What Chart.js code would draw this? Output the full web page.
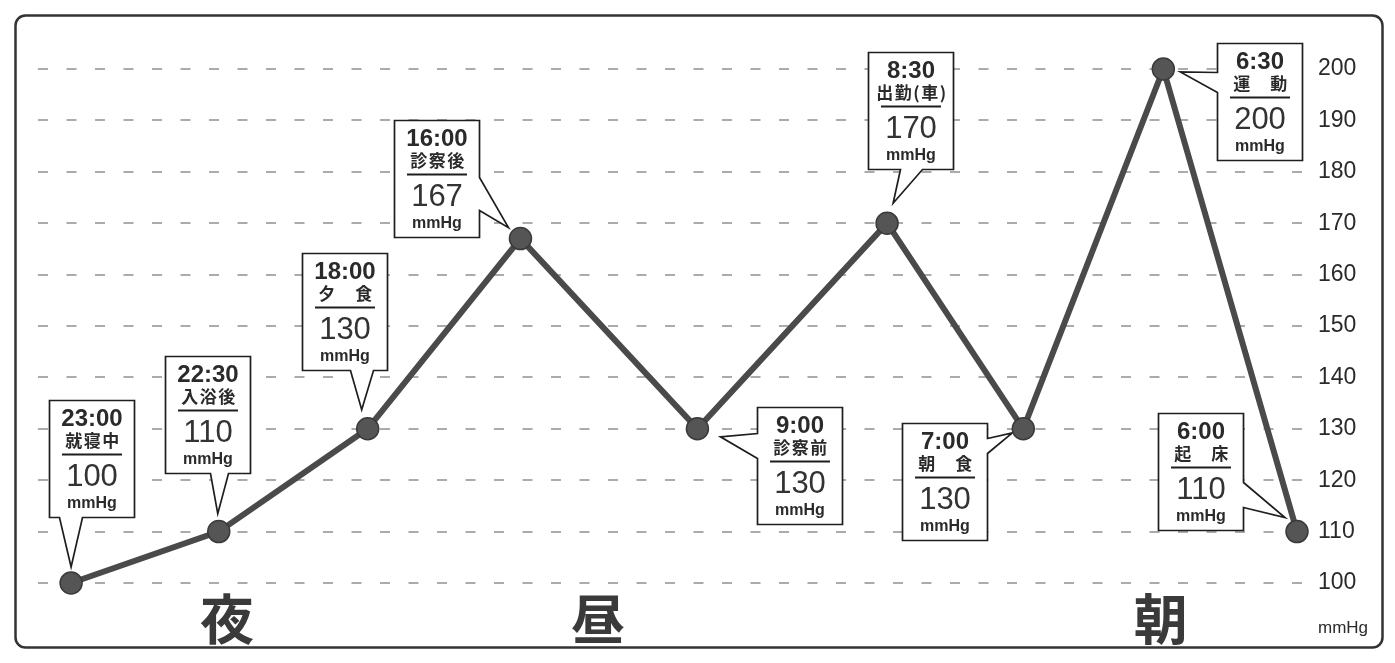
<!DOCTYPE html>
<html><head><meta charset="utf-8">
<script src="https://cdn.jsdelivr.net/npm/chart.js@4.4.0/dist/chart.umd.min.js"></script>
<style>html,body{margin:0;padding:0;background:#fff;}canvas{display:block;}</style>
</head><body>
<canvas id="c" width="1395" height="663"></canvas>
<script>
// ---- data ----
const times = ['23:00','22:30','18:00','16:00','9:00','8:30','7:00','6:30','6:00'];
const notes = ['就寝中','入浴後','夕　食','診察後','診察前','出勤(車)','朝　食','運　動','起　床'];
const bp = [100,110,130,167,130,170,130,200,110];
const xPos = [2.6,14.2,25.9,37.9,51.8,66.7,77.4,88.4,98.9];
const unit = 'mmHg';
const periods = ['夜','昼','朝'];
const periodX = [14.85,44.0,88.2];
const yMin = 100, yMax = 200, yStep = 10;

// ---- callout layout (relative to each point) ----
const BOX_W = 85, BOX_H = 117;
const callouts = [
  {dx:-22, dy:-183, side:'bottom', b0:10, b1:33, tx:0,   ty:-16},
  {dx:-54, dy:-176, side:'bottom', b0:45, b1:63, tx:-1,  ty:-18},
  {dx:-66, dy:-176, side:'bottom', b0:48, b1:71, tx:-6,  ty:-19},
  {dx:-126,dy:-119, side:'right',  b0:57, b1:90, tx:-12, ty:-11},
  {dx:60,  dy:-22,  side:'left',   b0:26, b1:51, tx:23,  ty:8},
  {dx:-19, dy:-171, side:'bottom', b0:32, b1:54, tx:6,   ty:-20},
  {dx:-121,dy:-6,   side:'right',  b0:15, b1:30, tx:-11, ty:4},
  {dx:54,  dy:-26,  side:'left',   b0:29, b1:49, tx:17,  ty:3},
  {dx:-139,dy:-119, side:'right',  b0:69, b1:94, tx:-12, ty:-14}
];

const TEXT = '#2a2a2a';

function boxPath(ctx, L, T, c, tipX, tipY) {
  const R = L + BOX_W, B = T + BOX_H;
  ctx.beginPath();
  ctx.moveTo(L, T);
  ctx.lineTo(R, T);
  if (c.side === 'right') {
    ctx.lineTo(R, T + c.b0); ctx.lineTo(tipX, tipY); ctx.lineTo(R, T + c.b1);
  }
  ctx.lineTo(R, B);
  if (c.side === 'bottom') {
    ctx.lineTo(L + c.b1, B); ctx.lineTo(tipX, tipY); ctx.lineTo(L + c.b0, B);
  }
  ctx.lineTo(L, B);
  if (c.side === 'left') {
    ctx.lineTo(L, T + c.b1); ctx.lineTo(tipX, tipY); ctx.lineTo(L, T + c.b0);
  }
  ctx.closePath();
}

const decor = {
  id: 'decor',
  beforeDraw(chart) {
    const ctx = chart.ctx;
    ctx.save();
    ctx.fillStyle = '#fff';
    ctx.fillRect(0, 0, chart.width, chart.height);
    ctx.beginPath();
    ctx.roundRect(15.5, 15.5, 1367, 632, 10);
    ctx.lineWidth = 2.5;
    ctx.strokeStyle = '#333';
    ctx.stroke();
    ctx.restore();
  },
  beforeDatasetsDraw(chart) {
    const ctx = chart.ctx;
    const xs = chart.scales.x, ys = chart.scales.y;
    ctx.save();
    // period labels
    ctx.fillStyle = '#3a3a3a';
    ctx.font = 'bold 54px "Noto Sans CJK JP"';
    ctx.textAlign = 'center';
    ctx.textBaseline = 'middle';
    periods.forEach((p, i) => {
      ctx.fillText(p, xs.getPixelForValue(periodX[i]), chart.chartArea.bottom + 36);
    });
    // unit label under axis
    ctx.font = '17px "Liberation Sans"';
    ctx.fillStyle = TEXT;
    ctx.textAlign = 'left';
    ctx.fillText(unit, 1318, 628);

    // callouts
    bp.forEach((v, i) => {
      const c = callouts[i];
      const px = xs.getPixelForValue(xPos[i]);
      const py = ys.getPixelForValue(v);
      const L = Math.round(px + c.dx) + 0.5, T = Math.round(py + c.dy) + 0.5;
      boxPath(ctx, L, T, c, px + c.tx, py + c.ty);
      ctx.fillStyle = '#fff';
      ctx.fill();
      ctx.lineWidth = 1.7;
      ctx.strokeStyle = '#1e1e1e';
      ctx.lineJoin = 'miter';
      ctx.stroke();
      const cx = L + BOX_W / 2;
      ctx.fillStyle = TEXT;
      ctx.textAlign = 'center';
      ctx.textBaseline = 'middle';
      ctx.font = 'bold 24px "Liberation Sans"';
      ctx.fillText(times[i], cx, T + 19);
      ctx.font = 'bold 17px "Noto Sans CJK JP"';
      ctx.letterSpacing = '1.5px';
      ctx.fillText(notes[i], cx + 1, T + 40);
      ctx.letterSpacing = '0px';
      ctx.beginPath();
      ctx.moveTo(cx - 30, T + 54); ctx.lineTo(cx + 30, T + 54);
      ctx.lineWidth = 2;
      ctx.stroke();
      ctx.font = '31px "Liberation Sans"';
      ctx.fillStyle = '#333';
      ctx.fillText(String(v), cx, T + 77);
      ctx.font = 'bold 16px "Liberation Sans"';
      ctx.fillStyle = TEXT;
      ctx.fillText(unit, cx, T + 103);
    });
    ctx.restore();
  }
};

new Chart(document.getElementById('c'), {
  type: 'line',
  data: {
    datasets: [{
      data: xPos.map((x, i) => ({x: x, y: bp[i]})),
      borderColor: '#4a4a4a',
      borderWidth: 6,
      pointRadius: 11,
      pointBackgroundColor: '#555',
      pointBorderColor: '#3a3a3a',
      pointBorderWidth: 1.5,
      tension: 0,
      clip: false
    }]
  },
  options: {
    responsive: false,
    animation: false,
    devicePixelRatio: 1,
    layout: {padding: {left: 38, top: 69, bottom: 80, right: 0}},
    plugins: {legend: {display: false}, tooltip: {enabled: false}},
    scales: {
      x: {type: 'linear', min: 0, max: 100, display: false},
      y: {
        position: 'right',
        min: yMin, max: yMax,
        afterFit(s) { s.width = 84; },
        ticks: {
          stepSize: yStep,
          padding: 7,
          color: '#2a2a2a',
          font: {family: '"Liberation Sans"', size: 23}
        },
        grid: {color: '#ababab', lineWidth: 2, drawTicks: false},
        border: {display: false, dash: [10, 18.5], dashOffset: 0}
      }
    }
  },
  plugins: [decor]
});
</script>
</body></html>
